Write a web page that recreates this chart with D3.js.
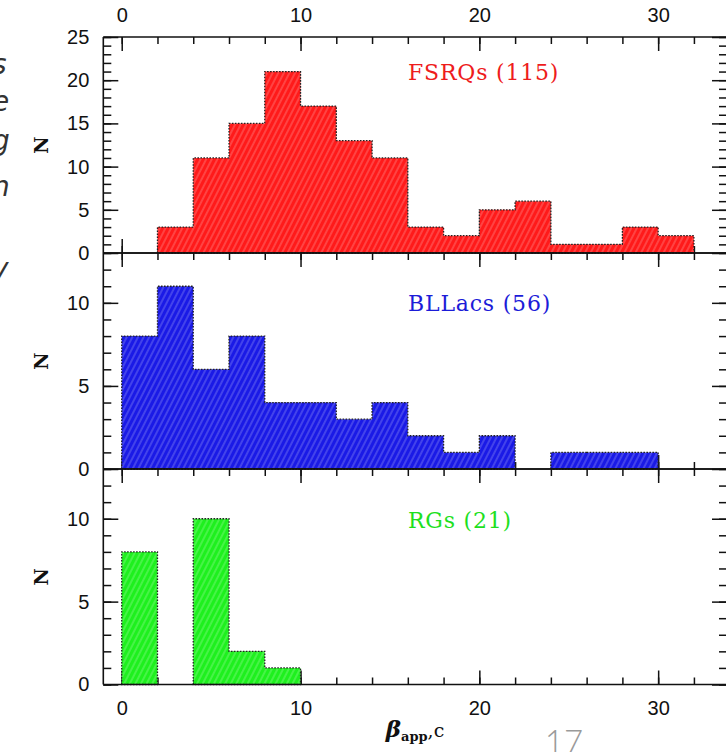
<!DOCTYPE html>
<html><head><meta charset="utf-8">
<script src="https://cdn.jsdelivr.net/npm/d3@7"></script>
<style>body{margin:0;background:#fff}svg{display:block}</style>
</head><body>
<svg id="c" width="726" height="752"></svg>
<script>
// ---- data ----
const binStarts = [0,2,4,6,8,10,12,14,16,18,20,22,24,26,28,30];
const binWidth = 2;
const fsrqCounts  = [0,3,11,15,21,17,13,11,3,2,5,6,1,1,3,2];
const bllacCounts = [8,11,6,8,4,4,3,4,2,1,2,0,1,1,1,0];
const rgCounts    = [8,0,10,2,1,0,0,0,0,0,0,0,0,0,0,0];
const panelNames  = ["FSRQs (115)","BLLacs (56)","RGs (21)"];
const panelColors = ["#ff1a1a","#1a1ae6","#1ef01e"];
const labelColors = ["#ee1c1c","#1c1cd8","#1ee01e"];
const yMax        = [25,13,13];
const yMajor      = [[0,5,10,15,20,25],[0,5,10],[0,5,10]];
const yMinor      = [[...Array(26).keys()],[...Array(13).keys()],[...Array(13).keys()]];
const xMajor      = [0,10,20,30];
const xMinor      = [0,2,4,6,8,10,12,14,16,18,20,22,24,26,28,30,32];
const series = [fsrqCounts, bllacCounts, rgCounts];

// ---- layout ----
const svg = d3.select("#c");
const left = 103.3, right = 727;
const tops = [37,253,469], bottoms = [253,469,684.5];
const x = d3.scaleLinear().domain([-1.03, 33.85]).range([left, right]);

const defs = svg.append("defs");
panelColors.forEach((c,i)=>{
  const p = defs.append("pattern").attr("id","h"+i).attr("patternUnits","userSpaceOnUse")
    .attr("width",5).attr("height",5).attr("patternTransform","rotate(27)");
  p.append("rect").attr("width",5).attr("height",5).attr("fill",c);
  p.append("line").attr("x1",1).attr("y1",0).attr("x2",1).attr("y2",5)
    .attr("stroke","#fff").attr("stroke-width",0.8).attr("stroke-opacity",0.45);
});

// left-edge cropped slide text fragments (partially outside the page, as in the reference)
const frags = [["s",74],["e",111],["g",150],["n",196],["y",278]];
svg.selectAll("text.frag").data(frags).join("text").attr("class","frag")
  .attr("x",-8).attr("y",d=>d[1]).attr("font-family","DejaVu Sans").attr("font-style","italic")
  .attr("font-weight",300).attr("font-size",28).attr("fill","#333").text(d=>d[0]);

function styleTicks(g){ g.select(".domain").remove(); g.selectAll(".tick line").attr("stroke","#111").attr("stroke-width",1.5); }

series.forEach((counts, i) => {
  const y = d3.scaleLinear().domain([0, yMax[i]]).range([bottoms[i], tops[i]]);
  const g = svg.append("g");

  const mk = (fn, pos, vals, size, sc) => {
    const a = g.append("g").attr("transform", pos).call(fn(sc).tickValues(vals).tickSize(-size).tickFormat(""));
    styleTicks(a);
  };
  mk(d3.axisBottom, `translate(0,${bottoms[i]})`, xMinor, 7, x);
  mk(d3.axisBottom, `translate(0,${bottoms[i]})`, xMajor, 14, x);
  mk(d3.axisTop, `translate(0,${tops[i]})`, xMinor, 7, x);
  mk(d3.axisTop, `translate(0,${tops[i]})`, xMajor, 14, x);
  mk(d3.axisLeft, `translate(${left},0)`, yMinor[i], 8, y);
  mk(d3.axisLeft, `translate(${left},0)`, yMajor[i], 15, y);
  mk(d3.axisRight, `translate(${right},0)`, yMinor[i], 8, y);
  mk(d3.axisRight, `translate(${right},0)`, yMajor[i], 15, y);

  const yl = g.append("g").attr("transform",`translate(${left},0)`)
    .call(d3.axisLeft(y).tickValues(yMajor[i]).tickSize(0).tickPadding(14));
  yl.select(".domain").remove();
  yl.selectAll("text").attr("font-family","Liberation Sans, Arial, sans-serif").attr("font-size",20).attr("fill","#111");

  const bins = binStarts.map((s,k)=>({s, e:s+binWidth, c:counts[k]}));
  const runs = [];
  let cur = null;
  bins.forEach(b=>{ if(b.c>0){ if(!cur){cur=[];runs.push(cur);} cur.push(b);} else cur=null; });
  runs.forEach(run=>{
    let d = `M${x(run[0].s)},${y(0)}`;
    run.forEach(b=>{ d += `L${x(b.s)},${y(b.c)}L${x(b.e)},${y(b.c)}`; });
    d += `L${x(run[run.length-1].e)},${y(0)}Z`;
    g.append("path").attr("d",d).attr("fill",`url(#h${i})`)
      .attr("stroke","#222").attr("stroke-width",1.3).attr("stroke-dasharray","1.6,1.4");
  });

  g.append("line").attr("x1",left).attr("x2",right).attr("y1",tops[i]).attr("y2",tops[i]).attr("stroke","#111").attr("stroke-width",1.6);
  g.append("line").attr("x1",left).attr("x2",right).attr("y1",bottoms[i]).attr("y2",bottoms[i]).attr("stroke","#111").attr("stroke-width",1.6);
  g.append("line").attr("x1",left).attr("x2",left).attr("y1",tops[i]).attr("y2",bottoms[i]).attr("stroke","#111").attr("stroke-width",1.6);

  const cy = (tops[i]+bottoms[i])/2;
  g.append("text").attr("transform",`translate(41,${cy}) rotate(-90)`).attr("text-anchor","middle")
    .attr("dy","0.36em").attr("font-family","DejaVu Serif, serif").attr("font-weight","bold")
    .attr("font-size",19).attr("fill","#111").text("N");

  const ly = [80,311,528][i];
  g.append("text").attr("x",408).attr("y",ly).attr("font-family","DejaVu Serif, serif")
    .attr("font-size",22).attr("letter-spacing",0.8).attr("fill",labelColors[i]).text(panelNames[i]);
});

const tl = svg.append("g").attr("transform",`translate(0,${tops[0]})`)
  .call(d3.axisTop(x).tickValues(xMajor).tickSize(0).tickPadding(15));
tl.select(".domain").remove();
tl.selectAll("text").attr("font-family","Liberation Sans, Arial, sans-serif").attr("font-size",20).attr("fill","#111");

const bl = svg.append("g").attr("transform",`translate(0,${bottoms[2]})`)
  .call(d3.axisBottom(x).tickValues(xMajor).tickSize(0).tickPadding(16));
bl.select(".domain").remove();
bl.selectAll("text").attr("font-family","Liberation Sans, Arial, sans-serif").attr("font-size",20).attr("fill","#111");

const xt = svg.append("text").attr("x",415).attr("y",737).attr("text-anchor","middle")
  .attr("font-family","DejaVu Serif, serif").attr("fill","#111");
xt.append("tspan").attr("font-style","italic").attr("font-weight","bold").attr("font-size",23).text("β");
xt.append("tspan").attr("font-weight","bold").attr("font-size",13).attr("dy",4).text("app");
xt.append("tspan").attr("font-size",19).attr("dy",-4).text(",c");

svg.append("text").attr("x",564).attr("y",754).attr("text-anchor","middle")
  .attr("font-family","Lato, Open Sans, sans-serif").attr("font-weight",300)
  .attr("font-size",33).attr("fill","#9a9a9a").text("17");
</script>
</body></html>
